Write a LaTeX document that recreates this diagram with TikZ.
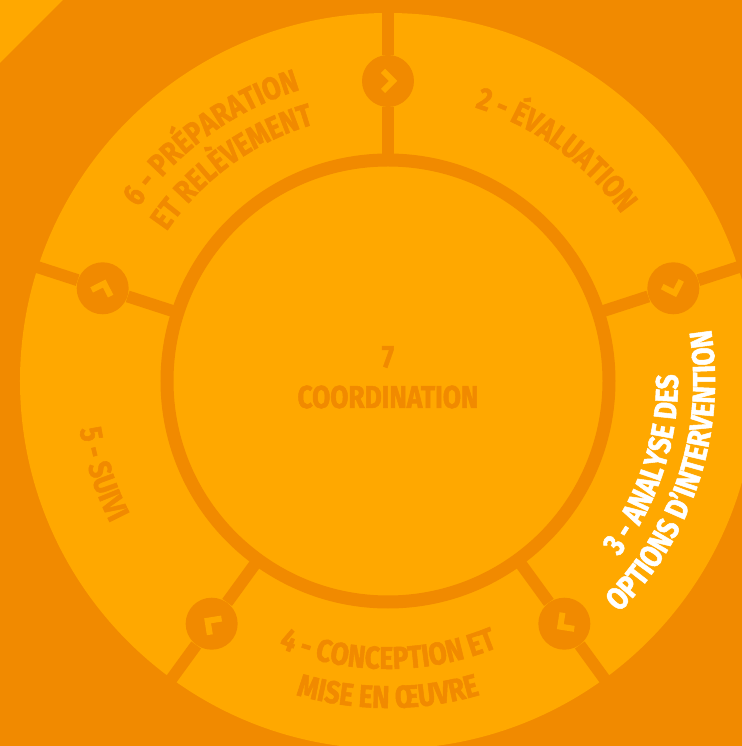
\documentclass[tikz,border=0pt]{standalone}
\usepackage{fontspec}
\newfontfamily\cond[FakeStretch=0.83,BoldFeatures={FakeBold=1.6}]{Fira Sans}
\usetikzlibrary{decorations.text}
\definecolor{deeporange}{RGB}{241,138,0}
\definecolor{paleorange}{RGB}{255,168,0}
\newcommand{\lblfont}{\cond\bfseries\fontsize{18}{18}\selectfont}

\begin{document}
\begin{tikzpicture}[x=0.02cm,y=0.02cm,
    hub/.style={circle,fill=deeporange,inner sep=0pt,minimum size=1.04cm},
    spoke/.style={draw=deeporange,line width=0.24cm},
    chev/.style={draw=paleorange,line width=0.12cm},
    arclabel/.style={decorate,decoration={text along path,text align=center,text color=#1}},
    midlabel/.style={text=deeporange,font=\lblfont,inner sep=0pt}]
  \useasboundingbox (-388,-365) rectangle (354,381);
  \fill[deeporange] (-388,-365) rectangle (354,381);
  \fill[paleorange] (-388,381) -- (-325,381) -- (-388,318) -- cycle;
  % wheel
  \fill[paleorange] (0,0) circle[radius=368];
  \draw[deeporange,line width=0.26cm] (0,0) circle[radius=221];
  \foreach \a [count=\i] in {90,18,-54,-126,162}{
    \node[hub] (hub\i) at (\a:300) {};
    \coordinate (rim\i) at (\a:221);
    \coordinate (edge\i) at (\a:372);
    \draw[spoke] (rim\i) -- (hub\i) -- (edge\i);
    \draw[chev,shift={(hub\i)},rotate=\a-90] (-5,10) -- (5,0) -- (-5,-10);
  }
  % centre
  \node[midlabel] (seven) at (0,24) {7};
  \node[midlabel] (coordination) at (0,-16) {COORDINATION};
  % steps
  \path[arclabel=deeporange,decoration={text={|\lblfont|2 - ÉVALUATION}}]
    (99:287) arc[start angle=99,end angle=9,radius=287];
  \path[arclabel=white,decoration={text={|\lblfont|3 - ANALYSE DES}}]
    (-63:290) arc[start angle=-63,end angle=27,radius=290];
  \path[arclabel=white,decoration={text={|\lblfont|OPTIONS D’INTERVENTION}}]
    (-63:327) arc[start angle=-63,end angle=27,radius=327];
  \path[arclabel=deeporange,decoration={text={|\lblfont|4 - CONCEPTION ET}}]
    (-135:288) arc[start angle=-135,end angle=-45,radius=288];
  \path[arclabel=deeporange,decoration={text={|\lblfont|MISE EN ŒUVRE}}]
    (-135:327) arc[start angle=-135,end angle=-45,radius=327];
  \path[arclabel=deeporange,decoration={text={|\lblfont|5 - SUIVI}}]
    (153:312) arc[start angle=153,end angle=243,radius=312];
  \path[arclabel=deeporange,decoration={text={|\lblfont|6 - PRÉPARATION}}]
    (171:304) arc[start angle=171,end angle=81,radius=304];
  \path[arclabel=deeporange,decoration={text={|\lblfont|ET RELÈVEMENT}}]
    (171:267) arc[start angle=171,end angle=81,radius=267];
\end{tikzpicture}
\end{document}
